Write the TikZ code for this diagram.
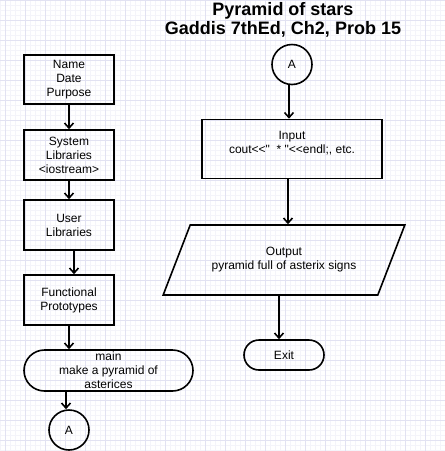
\documentclass[tikz,border=0pt]{standalone}
\usepackage{fontspec}
\setmainfont{Liberation Sans}
\usetikzlibrary{shapes.geometric, arrows.meta}
\definecolor{gridmajor}{RGB}{226,226,242}
\definecolor{gridminor}{RGB}{244,244,250}
\tikzset{
  txt/.style={font=\fontsize{12}{14}\selectfont, align=center, inner sep=0pt},
  box/.style={txt, draw, line width=1.6pt, minimum width=90pt, minimum height=50pt},
  term/.style={txt, draw, line width=1.6pt, rounded corners=#1},
  conn/.style={txt, draw, circle, line width=1.6pt, minimum size=40pt},
  io/.style={txt, draw, trapezium, trapezium left angle=50, trapezium right angle=130,
    trapezium stretches, line width=1.6pt, minimum width=242pt, minimum height=70pt},
  flow/.style={->, line width=1.6pt}
}
\begin{document}
\begin{tikzpicture}[x=1pt, y=-1pt, >={Straight Barb[length=5pt,width=9pt]}]
\useasboundingbox (0,0) rectangle (445,451);
\foreach \x in {0,5,...,445} \draw[gridminor, line width=.5pt] (\x,0) -- (\x,451);
\foreach \y in {0,5,...,450} \draw[gridminor, line width=.5pt] (0,\y) -- (445,\y);
\foreach \x in {5,25,...,445} \draw[gridmajor, line width=.7pt] (\x,0) -- (\x,451);
\foreach \y in {0,20,...,440} \draw[gridmajor, line width=.7pt] (0,\y) -- (445,\y);

\node[align=center, font=\fontsize{18}{19}\selectfont\bfseries] (title) at (283,19.5)
  {Pyramid of stars\\Gaddis 7thEd, Ch2, Prob 15};

\node[box, minimum height=49pt] (name) at (69,79.5) {Name\\Date\\Purpose};
\node[box] (syslib) at (69,155) {System\\Libraries\\<iostream>};
\node[box] (userlib) at (69,225) {User\\Libraries};
\node[box] (proto) at (69,300) {Functional\\Prototypes};
\node[term=20.5pt, minimum width=169pt, minimum height=41pt] (main) at (108.5,370.5)
  {main\\make a pyramid of\\asterices};
\node[conn] (connB) at (69,430) {A};

\node[conn] (connA) at (292,64.5) {A};
\node[box, minimum width=180pt, minimum height=59pt] (input) at (292,149)
  {Input\\cout<{}<\textquotedbl\ \ * \textquotedbl<{}<endl;, etc.\\ \mbox{}};
\node[io] (output) at (284,260) {Output\\pyramid full of asterix signs};
\node[term=15pt, minimum width=80pt, minimum height=30pt] (exit) at (284,355) {Exit};

\draw[flow] (name) -- (syslib);
\draw[flow] (syslib) -- (userlib);
\draw[flow] ([xshift=5pt]userlib.south) -- ([xshift=5pt]proto.north);
\draw[flow] (proto.south) -- (proto.south |- main.north);
\draw[flow] ([xshift=-3pt]connB |- main.south) -- ([xshift=-3pt]connB.north);

\draw[flow] ([xshift=-3pt]connA.south) -- ([xshift=-3pt]input.north);
\draw[flow] ([xshift=-4pt]input.south) -- ([xshift=-4pt]input.south |- output.north);
\draw[flow] ([xshift=-5pt]output.south) -- ([xshift=-5pt]exit.north);
\end{tikzpicture}
\end{document}
